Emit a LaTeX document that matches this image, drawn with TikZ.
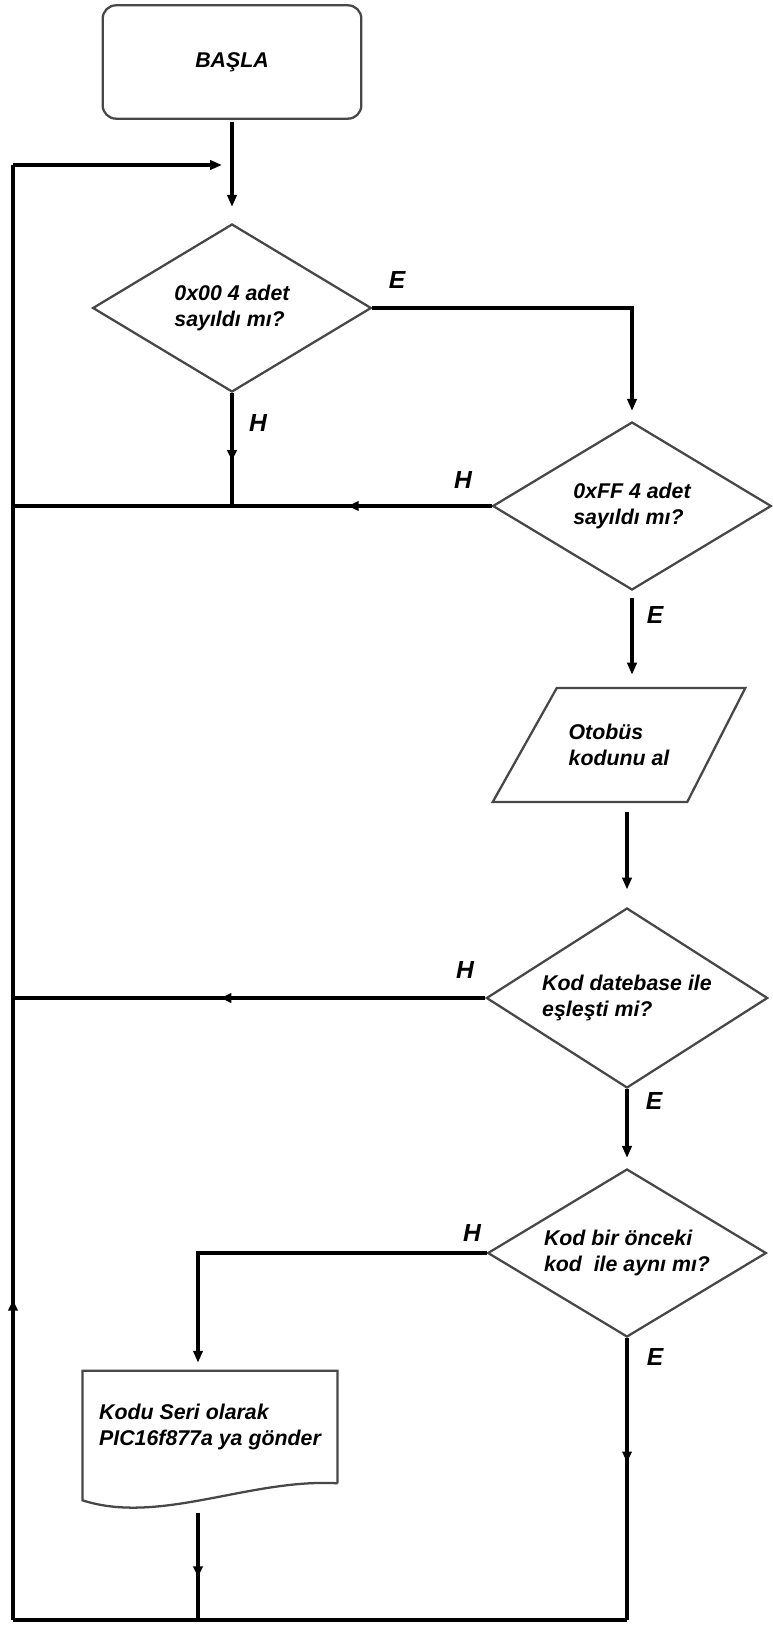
\documentclass[tikz,border=0pt]{standalone}
\usepackage{fontspec}
\setmainfont{Liberation Sans}
\usetikzlibrary{shapes.geometric,arrows.meta,decorations.markings,calc}

\begin{document}
\begin{tikzpicture}[x=.75pt,y=-.75pt,
  box/.style={draw=black!72,line width=1.7pt,fill=white,align=left,
    font=\bfseries\itshape\fontsize{16}{19.5}\selectfont},
  outline/.style={draw=black!72,line width=1.7pt},
  startbox/.style={box,rectangle,rounded corners=10pt,minimum width=194pt,minimum height=85pt},
  decision/.style={box,diamond,aspect=1.65,inner sep=1pt,minimum width=209pt,minimum height=126pt},
  plainbox/.style={align=left,font=\bfseries\itshape\fontsize{16}{19.5}\selectfont},
  lbl/.style={font=\bfseries\itshape\fontsize{18.5}{22}\selectfont,inner sep=0pt},
  line/.style={line width=3pt},
  flow/.style={line,-{Triangle[length=9pt,width=7pt]}},
  midarrow/.style={postaction={decorate},decoration={markings,
    mark=at position #1 with {\arrow{Triangle[length=8pt,width=7pt]}}}}]
\useasboundingbox (0,0) rectangle (772,1633);

% shapes
\node[startbox] (start) at (232,62) {BAŞLA};
\node[decision] (q1) at (232,308) {0x00 4 adet\\sayıldı mı?};
\node[decision] (q2) at (632,506) {0xFF 4 adet\\sayıldı mı?};
\node[plainbox,minimum width=189pt,minimum height=85pt] (read) at (619,745) {Otobüs\\kodunu al};
\draw[outline] (read.south west) -- ($(read.north west)+(64,0)$) -- (read.north east)
  -- ($(read.south east)+(-58,0)$) -- cycle;
\node[decision,minimum width=211pt,minimum height=135pt] (q3) at (627,998) {Kod datebase ile\\eşleşti mi?};
\node[decision] (q4) at (627,1253) {Kod bir önceki\\kod\ \ ile aynı mı?};
\node[plainbox,minimum width=191pt,minimum height=84pt] (send) at (210,1427) {Kodu Seri olarak\\PIC16f877a ya gönder};
\draw[outline] (send.south east) -- (send.north east) -- (send.north west)
  -- ($(send.south west)+(0,17)$) .. controls ($(send.south west)+(77,42)$) and ($(send.south east)+(-88,-5)$) .. (send.south east);

% labels
\node[lbl] (e1) at (397,280) {E};
\node[lbl] (h1) at (258,423) {H};
\node[lbl] (h2) at (463,480) {H};
\node[lbl] (e2) at (655,615) {E};
\node[lbl] (h3) at (465,970) {H};
\node[lbl] (e3) at (654,1101) {E};
\node[lbl] (h4) at (472,1233) {H};
\node[lbl] (e4) at (655,1357) {E};

% loop corners
\coordinate (tl) at (13,165);
\coordinate (bl) at (13,1620);
\coordinate (br) at (q4.south |- bl);
\coordinate (sendout) at ([xshift=-9pt,yshift=-22pt]send.south);

% connectors
\draw[flow,shorten <=2pt,shorten >=12pt] (start) -- (q1);
\draw[flow,shorten >=7.5pt] (q1.east) -| (q2.north);
\draw[line,midarrow=.6] (q1.south) -- (q1.south |- q2.west);
\draw[line,midarrow=.3] (q2.west) -- (q2.west -| tl);
\draw[flow,shorten <=5pt,shorten >=10pt] (q2.south) -- (q2.south |- read.north);
\draw[flow,shorten <=7.5pt,shorten >=13pt] (q3.north |- read.south) -- (q3.north);
\draw[line,midarrow=.56] (q3.west) -- (q3.west -| tl);
\draw[flow,shorten >=7.5pt] (q3.south) -- (q4.north);
\draw[flow,shorten >=6pt] (q4.west) -| ([xshift=-9pt]send.north);
\draw[line,midarrow=.6] (sendout) -- (sendout |- bl);
\draw[line,midarrow=.44] (q4.south) -- (br);
\draw[line] (br) -- (bl);
\draw[line,midarrow=.22] (bl) -- (tl);
\draw[flow,shorten >=7.5pt] (tl) -- (tl -| q1.north);
\end{tikzpicture}
\end{document}
